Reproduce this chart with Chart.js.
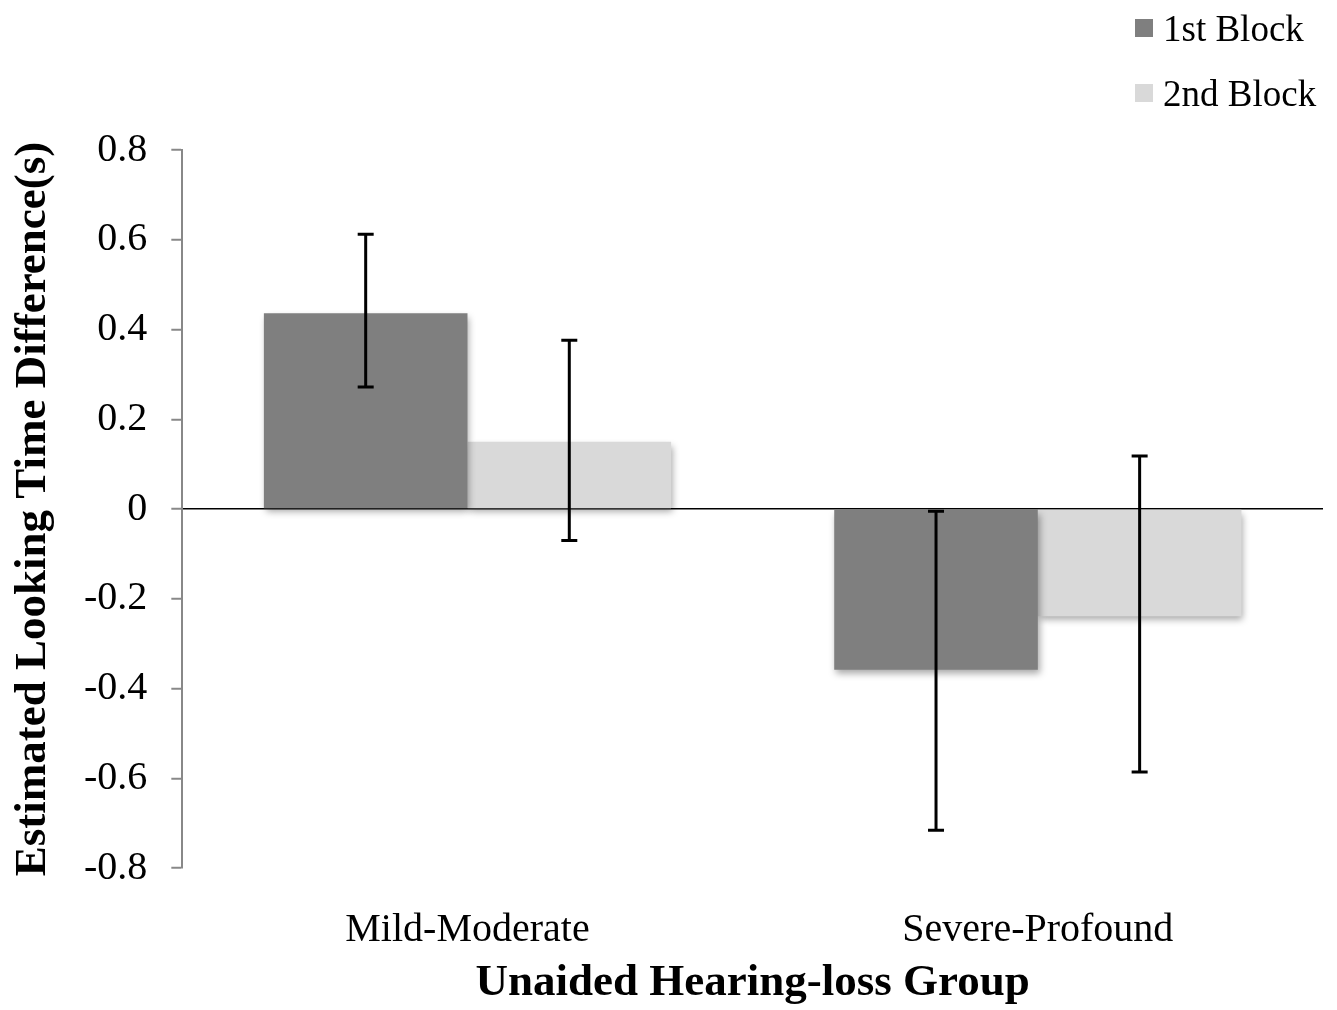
<!DOCTYPE html>
<html>
<head>
<meta charset="utf-8">
<script src="https://cdn.jsdelivr.net/npm/chart.js@4.4.1/dist/chart.umd.min.js"></script>
<style>
  html, body { margin:0; padding:0; background:#fff; }
  .wrap { position:relative; width:1337px; height:1010px; }
  #legend { position:absolute; left:1135px; top:4px; font-family:'Liberation Serif','Times New Roman',serif; font-size:37px; color:#000; }
  .legend-item { display:flex; align-items:center; height:48px; margin-bottom:17px; }
  .legend-dot { width:18px; height:18px; margin-right:10px; }
</style>
</head>
<body>
<div class="wrap">
  <canvas id="barChart" width="1337" height="1010"></canvas>
  <div id="legend"></div>
</div>
<script>
// ── DATA ─────────────────────────────────────────────────────────────
const groups = ['Mild-Moderate', 'Severe-Profound'];
const seriesNames = ['1st Block', '2nd Block'];
const block1 = [0.436, -0.358];
const block2 = [0.150, -0.239];
const block1Hi = [0.612, -0.005];
const block1Lo = [0.272, -0.716];
const block2Hi = [0.376, 0.118];
const block2Lo = [-0.070, -0.586];
const yTicks = [-0.8, -0.6, -0.4, -0.2, 0, 0.2, 0.4, 0.6, 0.8];

const COLORS = { dark: '#7f7f7f', light: '#d9d9d9', axis: '#888888' };
const SERIF = "'Liberation Serif','Times New Roman',serif";

// ── ERROR BARS + SHADOW ──────────────────────────────────────────────
const errorBars = {
  id: 'errorBars',
  beforeDatasetsDraw(chart) {
    const c = chart.ctx;
    c.save();
    c.shadowColor = 'rgba(0,0,0,0.35)';
    c.shadowBlur = 7;
    c.shadowOffsetX = 2;
    c.shadowOffsetY = 4;
  },
  afterDatasetsDraw(chart) {
    const c = chart.ctx;
    c.restore();
    const y = chart.scales.y;
    c.save();
    c.strokeStyle = '#000';
    c.lineWidth = 3;
    chart.data.datasets.forEach((ds, di) => {
      const meta = chart.getDatasetMeta(di);
      meta.data.forEach((bar, i) => {
        const top = y.getPixelForValue(ds.errHi[i]);
        const bot = y.getPixelForValue(ds.errLo[i]);
        c.beginPath();
        c.moveTo(bar.x, top); c.lineTo(bar.x, bot);
        c.moveTo(bar.x - 8, top); c.lineTo(bar.x + 8, top);
        c.moveTo(bar.x - 8, bot); c.lineTo(bar.x + 8, bot);
        c.stroke();
      });
    });
    c.restore();
  }
};

// ── CHART ────────────────────────────────────────────────────────────
const datasets = [
  { label: seriesNames[0], data: block1, errHi: block1Hi, errLo: block1Lo, backgroundColor: COLORS.dark, borderWidth: 0 },
  { label: seriesNames[1], data: block2, errHi: block2Hi, errLo: block2Lo, backgroundColor: COLORS.light, borderWidth: 0 },
];

new Chart(document.getElementById('barChart'), {
  type: 'bar',
  data: { labels: groups, datasets },
  plugins: [errorBars],
  options: {
    responsive: false, animation: false,
    layout: { padding: { top: 150, right: 14, left: 6, bottom: 0 } },
    datasets: { bar: { categoryPercentage: 0.714, barPercentage: 1 } },
    plugins: { legend: { display: false }, tooltip: { enabled: false } },
    scales: {
      x: {
        afterFit: axis => { axis.height = 142; },
        grid: { display: false, drawTicks: false },
        border: { display: false },
        ticks: { color: '#000', padding: 38, font: { family: SERIF, size: 40 } },
        title: { display: true, text: 'Unaided Hearing-loss Group', color: '#000', padding: { top: 0, bottom: 0 }, font: { family: SERIF, size: 45, weight: 'bold' } }
      },
      y: {
        min: -0.8, max: 0.8,
        afterBuildTicks: axis => { axis.ticks = yTicks.map(v => ({ value: v })); },
        grid: { color: ctx => (ctx.tick && ctx.tick.value === 0) ? '#000' : 'rgba(0,0,0,0)', lineWidth: 1.5, tickColor: COLORS.axis, tickLength: 11, tickWidth: 2 },
        border: { display: true, color: COLORS.axis, width: 2 },
        ticks: { color: '#000', padding: 24, font: { family: SERIF, size: 40 }, callback: v => String(Math.round(v * 10) / 10) },
        title: { display: true, text: 'Estimated Looking Time Difference(s)', color: '#000', padding: { top: 0, bottom: 0 }, font: { family: SERIF, size: 45, weight: 'bold' } }
      }
    }
  }
});

// build legend
const leg = document.getElementById('legend');
leg.innerHTML = datasets.map(d => `<div class="legend-item"><div class="legend-dot" style="background:${d.backgroundColor}"></div>${d.label}</div>`).join('');
</script>
</body>
</html>
